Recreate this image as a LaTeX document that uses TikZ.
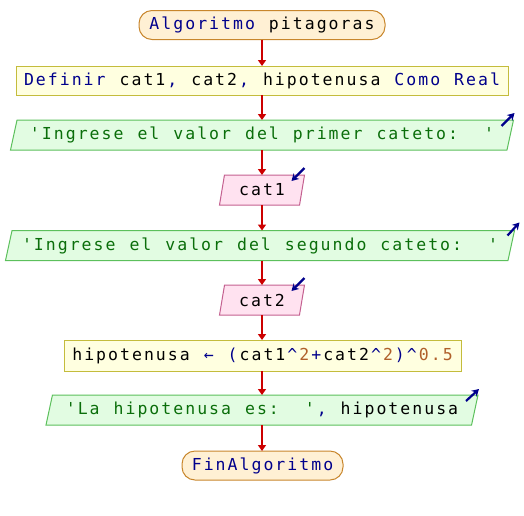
\documentclass[tikz,border=0pt]{standalone}
\usepackage{fontspec}
\setmonofont{DejaVu Sans Mono}
\usetikzlibrary{shapes.geometric,arrows.meta}

\definecolor{kwblue}{HTML}{00008C}
\definecolor{litgreen}{HTML}{0A6E0A}
\definecolor{numbrown}{HTML}{B0602A}
\definecolor{flowred}{HTML}{CC0000}
\definecolor{termfill}{HTML}{FFF0D4}
\definecolor{termdraw}{HTML}{C8862C}
\definecolor{procfill}{HTML}{FFFFE0}
\definecolor{procdraw}{HTML}{C4BC3C}
\definecolor{outfill}{HTML}{E2FCE2}
\definecolor{outdraw}{HTML}{5CC05C}
\definecolor{infill}{HTML}{FFE2F0}
\definecolor{indraw}{HTML}{C46090}

% fixed character cell for the code text; '_' stands for a blank cell
\newdimen\cw \cw=11.95pt
\ExplSyntaxOn
\NewDocumentCommand \mono { m }
  {
    \str_map_inline:nn {#1}
      {
        \str_if_eq:nnTF {##1} {_}
          { \hbox_to_wd:nn { \cw } { } }
          { \hbox_to_wd:nn { \cw } { \hfil ##1 \hfil } }
      }
  }
\ExplSyntaxOff
\newcommand{\kwd}[1]{{\color{kwblue}\mono{#1}}}
\newcommand{\lit}[1]{{\color{litgreen}\mono{#1}}}
\newcommand{\nmb}[1]{{\color{numbrown}\mono{#1}}}

\begin{document}
\begin{tikzpicture}[x=1pt,y=-1pt,
  font=\ttfamily\fontsize{16.5}{18}\selectfont,
  every node/.style={inner sep=0pt, outer sep=0pt},
  terminal/.style={rectangle, rounded corners=13pt, fill=termfill, draw=termdraw, line width=1pt, minimum height=29pt},
  process/.style={rectangle, fill=procfill, draw=procdraw, line width=1pt},
  iobox/.style={trapezium, trapezium left angle=68, trapezium right angle=112,
    trapezium stretches body=true, line width=1pt, minimum height=30pt},
  outbox/.style={iobox, fill=outfill, draw=outdraw},
  inbox/.style={iobox, fill=infill, draw=indraw},
  flow/.style={draw=flowred, line width=2pt, -{Triangle[length=6pt,width=8pt]}},
  iconarrow/.style={draw=kwblue, line width=2.2pt, -{Stealth[length=7pt,width=8pt]}}
]
\useasboundingbox (0,0) rectangle (524,515);

% flowchart blocks, top to bottom
\node[terminal, minimum width=246pt] (start) at (262,25) {\kwd{Algoritmo }\mono{pitagoras}};
\node[process, minimum width=492pt, minimum height=29pt] (def) at (262,80.5)
  {\kwd{Definir }\mono{cat1}\kwd{,}\mono{ cat2}\kwd{,}\mono{ hipotenusa }\kwd{Como Real}};
\node[outbox, minimum width=503pt] (out1) at (262,135)
  {\lit{'Ingrese el valor del primer cateto:__'}};
\node[inbox, minimum width=85pt] (in1) at (262,190) {\mono{cat1}};
\node[outbox, minimum width=509pt] (out2) at (260,245.5)
  {\lit{'Ingrese el valor del segundo cateto:__'}};
\node[inbox, minimum width=85pt] (in2) at (262,300) {\mono{cat2}};
\node[process, minimum width=397pt, minimum height=31pt] (calc) at (262.5,355.5)
  {\mono{hipotenusa }\kwd{← (}\mono{cat1}\kwd{^}\nmb{2}\kwd{+}\mono{cat2}\kwd{^}\nmb{2}\kwd{)^}\nmb{0.5}};
\node[outbox, minimum width=432pt] (out3) at (262,410)
  {\lit{'La hipotenusa es:__'}\kwd{,}\mono{ hipotenusa}};
\node[terminal, minimum width=161pt] (stop) at (262.5,465.5) {\kwd{FinAlgoritmo}};

% control flow
\draw[flow] (start.south) -- (def.north -| start.south);
\draw[flow] (def.south -| start.south) -- (out1.north -| start.south);
\draw[flow] (out1.south -| start.south) -- (in1.north -| start.south);
\draw[flow] (in1.south -| start.south) -- (out2.north -| start.south);
\draw[flow] (out2.south -| start.south) -- (in2.north -| start.south);
\draw[flow] (in2.south -| start.south) -- (calc.north -| start.south);
\draw[flow] (calc.south -| start.south) -- (out3.north -| start.south);
\draw[flow] (out3.south -| start.south) -- (stop.north -| start.south);

% output / input markers
\draw[iconarrow] ([shift={(-12,6)}]out1.top right corner) -- ([shift={(1,-7)}]out1.top right corner);
\draw[iconarrow] ([shift={(-7,5)}]out2.top right corner) -- ([shift={(5,-8)}]out2.top right corner);
\draw[iconarrow] ([shift={(-12,6)}]out3.top right corner) -- ([shift={(1,-6)}]out3.top right corner);
\draw[iconarrow] ([shift={(0,-7)}]in1.top right corner) -- ([shift={(-13,6)}]in1.top right corner);
\draw[iconarrow] ([shift={(0,-7)}]in2.top right corner) -- ([shift={(-13,6)}]in2.top right corner);
\end{tikzpicture}
\end{document}
